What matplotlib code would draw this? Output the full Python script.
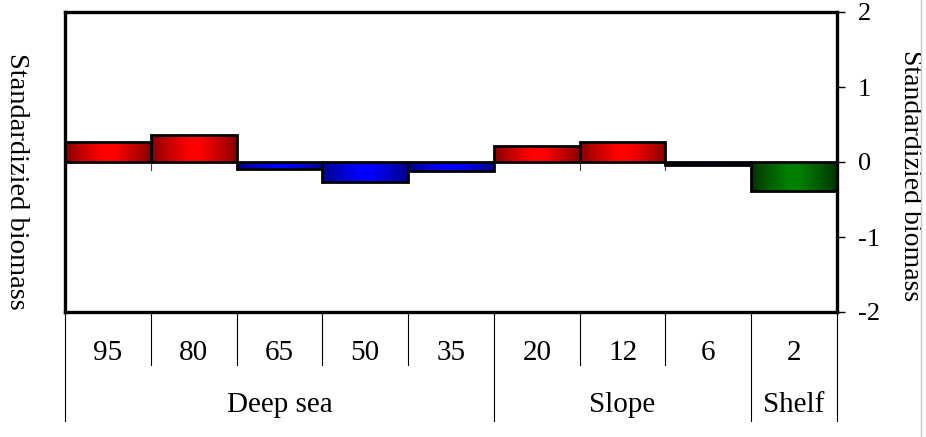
import numpy as np
import matplotlib
matplotlib.use("Agg")
import matplotlib.pyplot as plt
from matplotlib.patches import Rectangle
from matplotlib.lines import Line2D

depths = ["95", "80", "65", "50", "35", "20", "12", "6", "2"]
values = [0.27, 0.36, -0.09, -0.27, -0.12, 0.21, 0.27, -0.04, -0.39]
zones = ["Deep sea", "Slope", "Shelf"]
zone_sizes = [5, 3, 1]
yticks = [-2, -1, 0, 1, 2]

plt.rcParams['font.family'] = ['Liberation Serif', 'DejaVu Serif']

W, H = 926, 437
fig = plt.figure(figsize=(W / 100, H / 100), dpi=100)
L, R, T, B = 65, 837, 12, 312
ax = fig.add_axes([L / W, 1 - B / H, (R - L) / W, (B - T) / H])

n = len(values)
x = np.arange(n)
ax.set_xlim(-0.5, n - 0.5)
ax.set_ylim(-2, 2)

# zero axis and small ticks at category boundaries
ax.axhline(0, color='#404040', lw=0.8, zorder=1)
for b in np.arange(n + 1) - 0.5:
    ax.plot([b, b], [0, -0.11], color='#404040', lw=0.8, zorder=1)

zone_of = []
for zi, s in enumerate(zone_sizes):
    zone_of += [zi] * s

grad_cols = {
    'red': ((0.50, 0.0, 0.0), (1.0, 0.0, 0.0)),
    'blue': ((0.0, 0.0, 0.50), (0.0, 0.0, 1.0)),
    'green': ((0.0, 0.18, 0.0), (0.0, 0.50, 0.0)),
}

bars = ax.bar(x, values, width=1.0, facecolor='none', edgecolor='black',
              linewidth=2.0, zorder=4)
t = np.linspace(0, 1, 200)
prof = 1 - np.abs(2 * t - 1)
prof = np.clip(prof * 1.15, 0, 1) ** 0.8
for i, (bar, v) in enumerate(zip(bars, values)):
    if zone_of[i] == 2:
        key = 'green'
    else:
        key = 'red' if v >= 0 else 'blue'
    dark, bright = np.array(grad_cols[key][0]), np.array(grad_cols[key][1])
    img = dark[None, :] + (bright - dark)[None, :] * prof[:, None]
    img = img[None, :, :]
    x0 = bar.get_x()
    x1 = x0 + bar.get_width()
    y0, y1 = min(0, v), max(0, v)
    im = ax.imshow(img, extent=[x0, x1, y0, y1], aspect='auto',
                   interpolation='bilinear', zorder=3)
    im.set_clip_path(bar)

ax.set_xlim(-0.5, n - 0.5)
ax.set_ylim(-2, 2)

for s in ax.spines.values():
    s.set_linewidth(2.4)
    s.set_color('black')

ax.set_xticks([])
ax.yaxis.tick_right()
ax.set_yticks(yticks)
ax.set_yticklabels([str(v) for v in yticks])
ax.tick_params(axis='y', which='both', direction='out', length=6, width=1,
               pad=9, labelsize=19, right=True, left=False)

# category table below axes
def fx(px):
    return px / W

def fy(py):
    return 1 - py / H

bounds = [L + (R - L) * k / n for k in range(n + 1)]
zone_edges = np.cumsum([0] + zone_sizes)
for k, bx in enumerate(bounds):
    if k in zone_edges:
        y_end = 421
    else:
        y_end = 365
    fig.add_artist(Line2D([fx(bx), fx(bx)], [fy(B), fy(y_end)], color='black',
                          lw=0.8))

for k, lab in enumerate(depths):
    cx = (bounds[k] + bounds[k + 1]) / 2
    fig.text(fx(cx), fy(360), lab, ha='center', va='baseline', fontsize=21)

for zi, z in enumerate(zones):
    cx = (bounds[zone_edges[zi]] + bounds[zone_edges[zi + 1]]) / 2
    fig.text(fx(cx), fy(412), z, ha='center', va='baseline', fontsize=21)

fig.text(fx(16), fy(181), "Standardizied biomass", rotation=-90,
         ha='center', va='center', fontsize=20.5)
rt = fig.text(fx(910), fy(176), "Standardizied biomass", rotation=-90,
              ha='center', va='center', fontsize=20)
clip = Rectangle((0, 0), fx(921), 1, transform=fig.transFigure)
rt.set_clip_path(clip)

fig.add_artist(Line2D([fx(921), fx(921)], [0, 1], color='#b8c8e8', lw=1.0))

fig.savefig("out.png", dpi=100)
